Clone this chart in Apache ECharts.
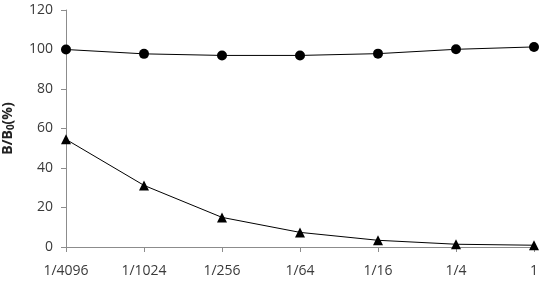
<!DOCTYPE html>
<html>
<head>
<meta charset="utf-8">
<script src="https://cdn.jsdelivr.net/npm/echarts@6/dist/echarts.min.js"></script>
<style>
  html, body { margin: 0; padding: 0; background: #fff; }
  #main { width: 543px; height: 293px; }
</style>
</head>
<body>
<div id="main"></div>
<script>
const categories = ['1/4096', '1/1024', '1/256', '1/64', '1/16', '1/4', '1'];
const circleValues = [100, 97.8, 97, 97, 97.9, 100.1, 101.3];
const triangleValues = [54.5, 31.2, 15, 7.4, 3.4, 1.4, 0.9];
const yTicks = { min: 0, max: 120, interval: 20 };

const axisGray = '#8c8c8c';
const textColor = '#3a3a3a';
const font = '"Open Sans", "Noto Sans", sans-serif';

let chart = echarts.init(document.getElementById('main'));
let option = {
    animation: false,
    grid: { left: 66, right: 9, top: 10, bottom: 46, outerBoundsMode: 'none', containLabel: false },
    xAxis: {
        type: 'category',
        data: categories,
        boundaryGap: false,
        axisLine: { lineStyle: { color: axisGray, width: 1 } },
        axisTick: { show: true, alignWithLabel: true, length: 5, lineStyle: { color: axisGray } },
        axisLabel: { color: textColor, fontSize: 14, fontFamily: font, margin: 17 }
    },
    yAxis: {
        type: 'value',
        min: yTicks.min,
        max: yTicks.max,
        interval: yTicks.interval,
        splitLine: { show: false },
        axisLine: { show: true, lineStyle: { color: axisGray, width: 1 } },
        axisTick: { show: true, length: 5, lineStyle: { color: axisGray } },
        axisLabel: { color: textColor, fontSize: 14, fontFamily: font, margin: 13 },
        name: '{n|B/B}{s|0}{n|(%)}',
        nameLocation: 'middle',
        nameRotate: 90,
        nameGap: 50,
        nameTextStyle: {
            rich: {
                n: { fontSize: 14, fontWeight: 'bold', color: '#222', fontFamily: font },
                s: { fontSize: 10, fontWeight: 'bold', color: '#222', fontFamily: font, padding: [6, 0, 0, 0] }
            }
        }
    },
    series: [
        {
            type: 'line',
            data: circleValues,
            symbol: 'circle',
            symbolSize: 10,
            itemStyle: { color: '#000' },
            lineStyle: { color: '#000', width: 1 }
        },
        {
            type: 'line',
            data: triangleValues,
            symbol: 'triangle',
            symbolSize: 10,
            itemStyle: { color: '#000' },
            lineStyle: { color: '#000', width: 1 }
        }
    ]
};
chart.setOption(option);
</script>
</body>
</html>
